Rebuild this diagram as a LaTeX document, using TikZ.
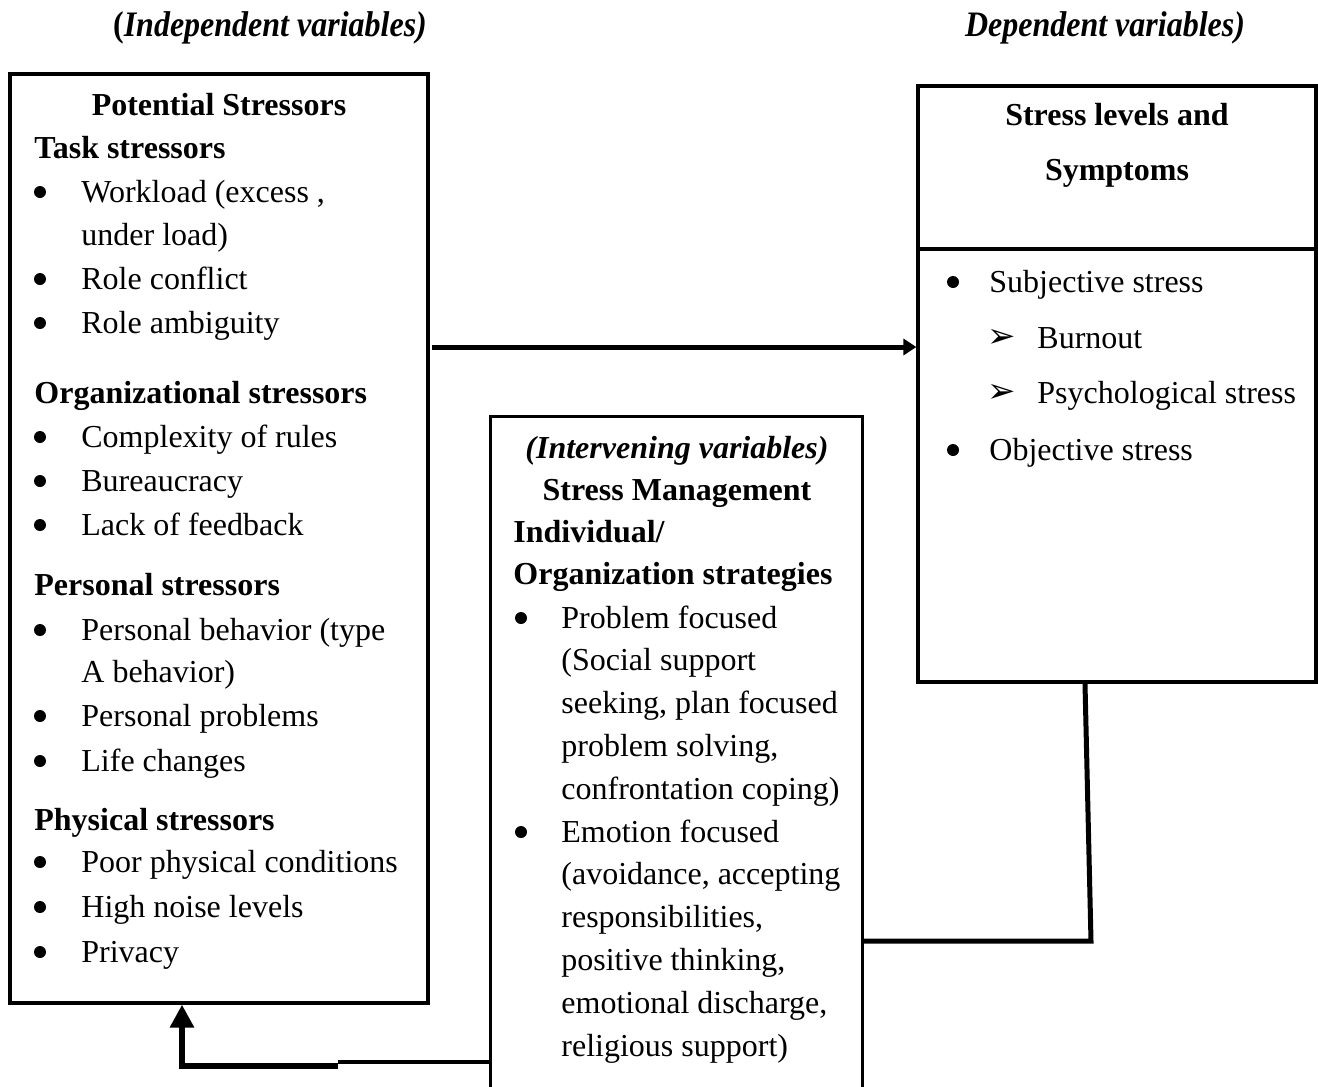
\documentclass[tikz,border=0pt]{standalone}
\usepackage{fontspec}
\setmainfont{Liberation Serif}
\newfontfamily\dejavu{DejaVu Sans}
\usetikzlibrary{arrows.meta,fit}
\begin{document}
\begin{tikzpicture}[x=0.5pt,y=-0.5pt,
  box/.style={draw, line width=1.6pt, inner sep=0pt},
  frame/.style={inner sep=0pt},
  txt/.style={anchor=base west, inner sep=0pt, font=\fontsize{16}{19}\selectfont},
  hd/.style={txt, font=\fontsize{16}{19}\selectfont\bfseries},
  hdc/.style={hd, anchor=base},
  hdi/.style={anchor=base, inner sep=0pt, font=\fontsize{16}{19}\selectfont\bfseries\itshape},
  bul/.style={circle, fill=black, inner sep=0pt, minimum size=6pt},
  arr/.style={anchor=base, inner sep=0pt, font=\dejavu\fontsize{17}{19}\selectfont},
  conn/.style={line width=2.5pt},
]
\useasboundingbox (0,0) rectangle (1318,1087);

% headers
\node[hdi] (hIV) at (270,36) {\scalebox{1}[1.12]{\upshape(\itshape Independent variables)}};
\node[hdi] (hDV) at (1105,36) {\scalebox{1}[1.12]{Dependent variables)}};

% boxes
\coordinate (L1) at (10,74);  \coordinate (L2) at (428,1003);
\node[box, fit=(L1)(L2)] (L) {};
\coordinate (R1) at (918,86); \coordinate (R2) at (1316,682);
\node[box, fit=(R1)(R2)] (R) {};
\coordinate (Rd) at (0,249);
\draw[line width=1.6pt] (R.west |- Rd) -- (R.east |- Rd);
\coordinate (M1) at (491,417); \coordinate (M2) at (862,1090);
\node[frame, fit=(M1)(M2)] (M) {};
\draw[line width=1.6pt] (M.south west) -- (M.north west) -- (M.north east) -- (M.south east);

% left box text
\node[hdc] (lt) at (219,115) {Potential Stressors};
\foreach \n/\yy/\t in {h1/158/{Task stressors}, h2/403/{Organizational stressors},
  h3/595/{Personal stressors}, h4/830/{Physical stressors}}
  \node[hd] (\n) at (34,\yy) {\t};
\foreach \n/\yy/\t in {l1/202/{Workload (excess ,}, l2/245/{under load)}, l3/289/{Role conflict},
  l4/333/{Role ambiguity}, l5/447/{Complexity of rules}, l6/491/{Bureaucracy},
  l7/535/{Lack of feedback}, l8/640/{Personal behavior (type}, l9/682/{A behavior)},
  l10/726/{Personal problems}, l11/771/{Life changes}, l12/872/{Poor physical conditions},
  l13/917/{High noise levels}, l14/962/{Privacy}}
  \node[txt] (\n) at (81,\yy) {\t};
\foreach \n/\yy in {lb1/202, lb2/289, lb3/333, lb4/447, lb5/491, lb6/535, lb7/640,
  lb8/726, lb9/771, lb10/872, lb11/917, lb12/962}
  \node[bul] (\n) at (40,\yy-10) {};

% right box text
\node[hdc] (rt1) at (1117,125) {Stress levels and};
\node[hdc] (rt2) at (1117,180) {Symptoms};
\node[txt] (r1) at (989,292) {Subjective stress};
\node[txt] (r2) at (1037,348) {Burnout};
\node[txt] (r3) at (1037,403) {Psychological stress};
\node[txt] (r4) at (989,460) {Objective stress};
\node[bul] (rb1) at (953,282) {};
\node[bul] (rb2) at (953,450) {};
\node[arr] (ra1) at (1002,347) {➢};
\node[arr] (ra2) at (1002,402) {➢};

% middle box text
\node[hdi] (mt1) at (677,458) {(Intervening variables)};
\node[hdc] (mt2) at (677,500) {Stress Management};
\node[hd] (mt3) at (513,542) {Individual/};
\node[hd] (mt4) at (513,584) {Organization strategies};
\foreach \n/\yy/\t in {m1/628/{Problem focused}, m2/670/{(Social support},
  m3/713/{seeking, plan focused}, m4/756/{problem solving,}, m5/799/{confrontation coping)},
  m6/842/{Emotion focused}, m7/884/{(avoidance, accepting}, m8/927/{responsibilities,},
  m9/970/{positive thinking,}, m10/1013/{emotional discharge,}, m11/1056/{religious support)}}
  \node[txt] (\n) at (561,\yy) {\t};
\node[bul] (mb1) at (521,618) {};
\node[bul] (mb2) at (521,832) {};

% connectors
\coordinate (ya) at (0,347);
\draw[conn, -{Triangle[length=6.5pt,width=8pt]}] ([xshift=1pt]L.east |- ya) -- (R.west |- ya);

\coordinate (xr) at (1085,0);
\coordinate (c2) at (1091,941);
\draw[conn] (R.south -| xr) -- (c2) -- (M.east |- c2);

\coordinate (yb) at (0,1062);
\coordinate (c3) at (338,1062);
\coordinate (c4) at (338,1066);
\coordinate (c5) at (182,1066);
\draw[line width=2pt] (M.west |- yb) -- (c3);
\draw[line width=3.2pt, -{Triangle[length=11.5pt,width=11.5pt]}] (c4) -- (c5) -- (L.south -| c5);
\end{tikzpicture}
\end{document}
